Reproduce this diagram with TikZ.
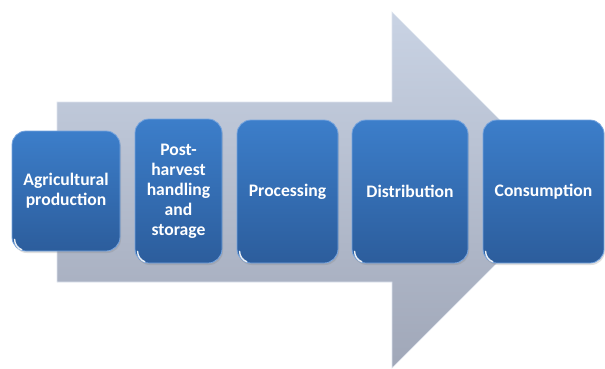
\documentclass[tikz,border=0pt]{standalone}
\usepackage{fontspec}
\setmainfont{Carlito}
\usetikzlibrary{shadows}
\definecolor{arrowtop}{RGB}{201,211,228}
\definecolor{arrowbot}{RGB}{160,167,184}
\definecolor{arrowedge}{RGB}{222,228,238}
\definecolor{boxtop}{RGB}{60,126,202}
\definecolor{boxbot}{RGB}{44,93,156}
\definecolor{boxedge}{RGB}{118,164,222}
\tikzset{
  stage/.style={rounded corners=14pt, top color=boxtop, bottom color=boxbot,
    draw=boxedge, line width=0.8pt, text=white, align=center,
    font=\fontsize{17.6}{20}\selectfont\bfseries, inner sep=0pt,
    drop shadow={opacity=0.25, shadow xshift=1pt, shadow yshift=-2pt}},
  glint/.style={white, line width=1.4pt, opacity=0.9, line cap=round}
}
\begin{document}
\begin{tikzpicture}[x=1pt,y=1pt]
\useasboundingbox (0,0) rectangle (605,-368);
% big background arrow
\shade[top color=arrowtop, bottom color=arrowbot, draw=arrowedge, line width=0.6pt]
  (57,-102) -- (392,-102) -- (392,-12) -- (570,-190) -- (392,-368)
  -- (392,-282) -- (57,-282) -- cycle;
% stages
\node[stage, minimum width=108pt, minimum height=120pt] (agri) at (66,-191) {Agricultural\\production};
\node[stage, minimum width=87pt, minimum height=144pt] (post) at (178.5,-191) {Post-\\harvest\\handling\\and\\storage};
\node[stage, minimum width=101pt, minimum height=143pt] (proc) at (287.5,-191.5) {Processing};
\node[stage, minimum width=116pt, minimum height=143pt] (dist) at (410,-191.5) {Distribution};
\node[stage, minimum width=121pt, minimum height=143pt] (cons) at (543.5,-191.5) {Consumption};
% corner highlights
\foreach \n in {agri,post,proc,dist,cons}
  \draw[glint] ([xshift=3pt,yshift=12pt]\n.south west) arc[start angle=180, end angle=250, radius=11pt];
\end{tikzpicture}
\end{document}
